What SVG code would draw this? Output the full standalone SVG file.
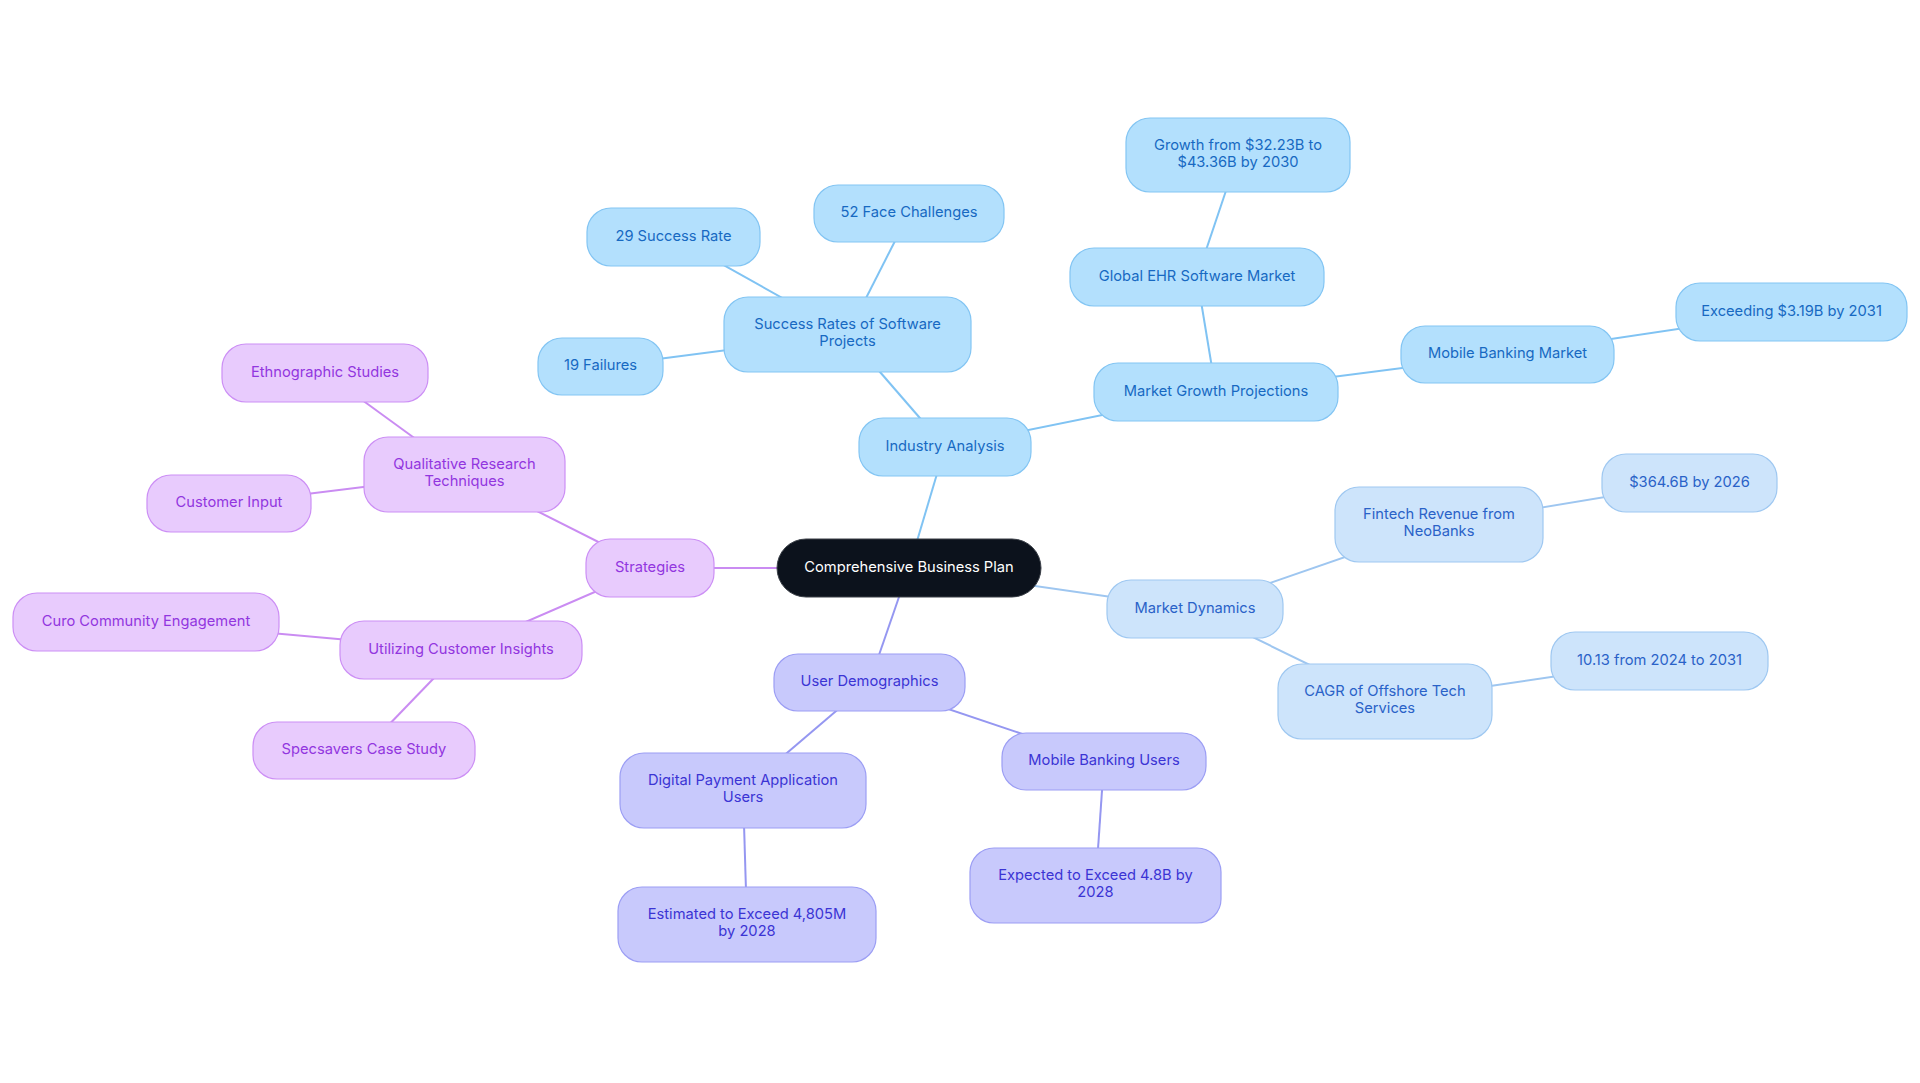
<svg xmlns="http://www.w3.org/2000/svg" width="1920" height="1083" viewBox="0 0 1920 1083">
<style>
text{font-family:Inter,"Noto Sans","Liberation Sans",sans-serif;font-size:14.7px;text-anchor:middle;dominant-baseline:central}
.e{fill:none;stroke-width:2}
.eb{stroke:#80c3f3}.ed{stroke:#9ec6f0}.es{stroke:#ca8cf2}.eu{stroke:#9597f1}
.nb rect{fill:#b3e0fd;stroke:#83c5f3;stroke-width:1.2}.nb text{fill:#1769c2}
.nd rect{fill:#cde4fb;stroke:#9fc8f1;stroke-width:1.2}.nd text{fill:#2a62c8}
.ns rect{fill:#e8cbfd;stroke:#cc8ff5;stroke-width:1.2}.ns text{fill:#9236df}
.nu rect{fill:#c8c9fc;stroke:#9c9ef4;stroke-width:1.2}.nu text{fill:#3b34d4}
</style>
<rect width="1920" height="1083" fill="#ffffff"/>
<g id="connectors">
<line class="e eb" x1="909" y1="568" x2="945" y2="447"/>
<line class="e eb" x1="945" y1="447" x2="847.5" y2="334.5"/>
<line class="e eb" x1="847.5" y1="334.5" x2="673.5" y2="237"/>
<line class="e eb" x1="847.5" y1="334.5" x2="909" y2="213.5"/>
<line class="e eb" x1="847.5" y1="334.5" x2="600.5" y2="366.5"/>
<line class="e eb" x1="945" y1="447" x2="1216" y2="392"/>
<line class="e eb" x1="1216" y1="392" x2="1197" y2="277"/>
<line class="e eb" x1="1197" y1="277" x2="1238" y2="155"/>
<line class="e eb" x1="1216" y1="392" x2="1507.5" y2="354.5"/>
<line class="e eb" x1="1507.5" y1="354.5" x2="1791.5" y2="312"/>
<line class="e ed" x1="909" y1="568" x2="1195" y2="609"/>
<line class="e ed" x1="1195" y1="609" x2="1439" y2="524.5"/>
<line class="e ed" x1="1439" y1="524.5" x2="1689.5" y2="483"/>
<line class="e ed" x1="1195" y1="609" x2="1385" y2="701.5"/>
<line class="e ed" x1="1385" y1="701.5" x2="1659.5" y2="661"/>
<line class="e es" x1="909" y1="568" x2="650" y2="568"/>
<line class="e es" x1="650" y1="568" x2="464.5" y2="474.5"/>
<line class="e es" x1="464.5" y1="474.5" x2="325" y2="373"/>
<line class="e es" x1="464.5" y1="474.5" x2="229" y2="503.5"/>
<line class="e es" x1="650" y1="568" x2="461" y2="650"/>
<line class="e es" x1="461" y1="650" x2="146" y2="622"/>
<line class="e es" x1="461" y1="650" x2="364" y2="750.5"/>
<line class="e eu" x1="909" y1="568" x2="869.5" y2="682.5"/>
<line class="e eu" x1="869.5" y1="682.5" x2="743" y2="790.5"/>
<line class="e eu" x1="743" y1="790.5" x2="747" y2="924.5"/>
<line class="e eu" x1="869.5" y1="682.5" x2="1104" y2="761.5"/>
<line class="e eu" x1="1104" y1="761.5" x2="1095.5" y2="885.5"/>
</g>
<g id="root"><rect x="777" y="539" width="264" height="58" rx="29" fill="#0c121c" stroke="#3a3f47" stroke-width="1"/><text x="909" y="566.5" fill="#ffffff">Comprehensive Business Plan</text></g>
<g id="industry-analysis" class="nb"><rect x="859" y="418" width="172" height="58" rx="24"/><text x="945" y="445.5">Industry Analysis</text></g>
<g id="success-rates" class="nb"><rect x="724" y="297" width="247" height="75" rx="24"/><text x="847.5" y="323.5">Success Rates of Software</text><text x="847.5" y="340.5">Projects</text></g>
<g id="success-29" class="nb"><rect x="587" y="208" width="173" height="58" rx="24"/><text x="673.5" y="235.5">29 Success Rate</text></g>
<g id="face-52" class="nb"><rect x="814" y="185" width="190" height="57" rx="24"/><text x="909" y="212">52 Face Challenges</text></g>
<g id="failures-19" class="nb"><rect x="538" y="338" width="125" height="57" rx="24"/><text x="600.5" y="365">19 Failures</text></g>
<g id="market-growth" class="nb"><rect x="1094" y="363" width="244" height="58" rx="24"/><text x="1216" y="390.5">Market Growth Projections</text></g>
<g id="global-ehr" class="nb"><rect x="1070" y="248" width="254" height="58" rx="24"/><text x="1197" y="275.5">Global EHR Software Market</text></g>
<g id="ehr-growth" class="nb"><rect x="1126" y="118" width="224" height="74" rx="24"/><text x="1238" y="144.5">Growth from $32.23B to</text><text x="1238" y="161.5">$43.36B by 2030</text></g>
<g id="mobile-banking-market" class="nb"><rect x="1401" y="326" width="213" height="57" rx="24"/><text x="1507.5" y="353">Mobile Banking Market</text></g>
<g id="exceeding" class="nb"><rect x="1676" y="283" width="231" height="58" rx="24"/><text x="1791.5" y="310.5">Exceeding $3.19B by 2031</text></g>
<g id="market-dynamics" class="nd"><rect x="1107" y="580" width="176" height="58" rx="24"/><text x="1195" y="607.5">Market Dynamics</text></g>
<g id="fintech" class="nd"><rect x="1335" y="487" width="208" height="75" rx="24"/><text x="1439" y="513.5">Fintech Revenue from</text><text x="1439" y="530.5">NeoBanks</text></g>
<g id="fintech-value" class="nd"><rect x="1602" y="454" width="175" height="58" rx="24"/><text x="1689.5" y="481.5">$364.6B by 2026</text></g>
<g id="cagr" class="nd"><rect x="1278" y="664" width="214" height="75" rx="24"/><text x="1385" y="690.5">CAGR of Offshore Tech</text><text x="1385" y="707.5">Services</text></g>
<g id="cagr-value" class="nd"><rect x="1551" y="632" width="217" height="58" rx="24"/><text x="1659.5" y="659.5">10.13 from 2024 to 2031</text></g>
<g id="strategies" class="ns"><rect x="586" y="539" width="128" height="58" rx="24"/><text x="650" y="566.5">Strategies</text></g>
<g id="qualitative" class="ns"><rect x="364" y="437" width="201" height="75" rx="24"/><text x="464.5" y="463.5">Qualitative Research</text><text x="464.5" y="480.5">Techniques</text></g>
<g id="ethnographic" class="ns"><rect x="222" y="344" width="206" height="58" rx="24"/><text x="325" y="371.5">Ethnographic Studies</text></g>
<g id="customer-input" class="ns"><rect x="147" y="475" width="164" height="57" rx="24"/><text x="229" y="502">Customer Input</text></g>
<g id="utilizing" class="ns"><rect x="340" y="621" width="242" height="58" rx="24"/><text x="461" y="648.5">Utilizing Customer Insights</text></g>
<g id="curo" class="ns"><rect x="13" y="593" width="266" height="58" rx="24"/><text x="146" y="620.5">Curo Community Engagement</text></g>
<g id="specsavers" class="ns"><rect x="253" y="722" width="222" height="57" rx="24"/><text x="364" y="749">Specsavers Case Study</text></g>
<g id="user-demographics" class="nu"><rect x="774" y="654" width="191" height="57" rx="24"/><text x="869.5" y="681">User Demographics</text></g>
<g id="digital-payment" class="nu"><rect x="620" y="753" width="246" height="75" rx="24"/><text x="743" y="779.5">Digital Payment Application</text><text x="743" y="796.5">Users</text></g>
<g id="estimated" class="nu"><rect x="618" y="887" width="258" height="75" rx="24"/><text x="747" y="913.5">Estimated to Exceed 4,805M</text><text x="747" y="930.5">by 2028</text></g>
<g id="mobile-banking-users" class="nu"><rect x="1002" y="733" width="204" height="57" rx="24"/><text x="1104" y="760">Mobile Banking Users</text></g>
<g id="expected" class="nu"><rect x="970" y="848" width="251" height="75" rx="24"/><text x="1095.5" y="874.5">Expected to Exceed 4.8B by</text><text x="1095.5" y="891.5">2028</text></g>
</svg>
